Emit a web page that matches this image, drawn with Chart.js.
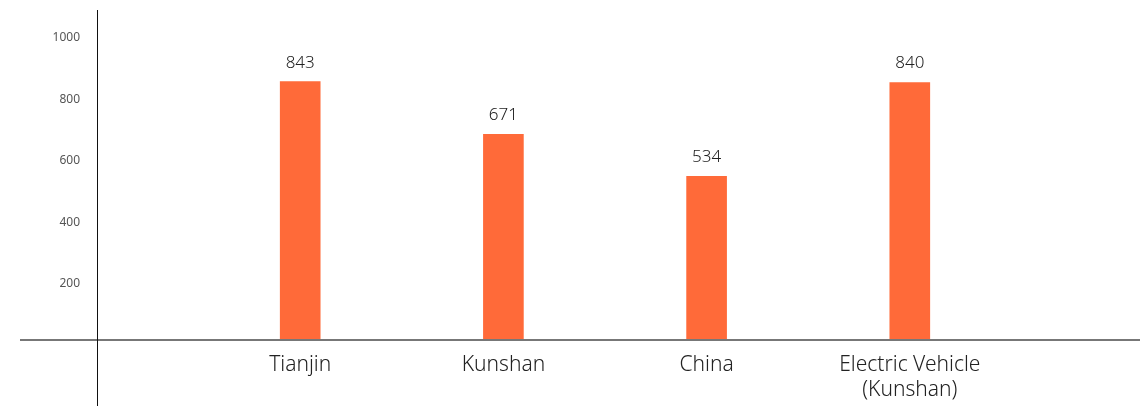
<!DOCTYPE html>
<html>
<head>
<meta charset="utf-8">
<script src="https://cdn.jsdelivr.net/npm/chart.js@4/dist/chart.umd.min.js"></script>
<style>
html,body{margin:0;padding:0;background:#fff;}
#wrap{width:1145px;height:406px;position:relative;}
</style>
</head>
<body>
<div id="wrap"><canvas id="c"></canvas></div>
<script>
const categories = ['Tianjin', 'Kunshan', 'China', ['Electric Vehicle', '(Kunshan)']];
const values = [843, 671, 534, 840];
const yTicks = [200, 400, 600, 800, 1000];
const yMax = 1075;

const labels = [''].concat(categories, ['']);
const data = [null].concat(values, [null]);
const FONT = "'Noto Sans', sans-serif";

const axisLines = {
  id: 'axisLines',
  afterDatasetsDraw(chart) {
    const {ctx, chartArea} = chart;
    const y0 = chart.scales.y.getPixelForValue(0);
    ctx.save();
    ctx.strokeStyle = '#777';
    ctx.lineWidth = 2;
    ctx.beginPath();
    ctx.moveTo(20, y0);
    ctx.lineTo(chart.width - 5, y0);
    ctx.stroke();
    ctx.strokeStyle = '#111';
    ctx.lineWidth = 1;
    ctx.beginPath();
    ctx.moveTo(chartArea.left + 0.5, chartArea.top);
    ctx.lineTo(chartArea.left + 0.5, chart.height);
    ctx.stroke();
    ctx.restore();
  }
};

const valueLabels = {
  id: 'valueLabels',
  afterDatasetsDraw(chart) {
    const {ctx} = chart;
    const meta = chart.getDatasetMeta(0);
    ctx.save();
    ctx.font = '300 17px ' + FONT;
    ctx.fillStyle = '#222';
    ctx.textAlign = 'center';
    ctx.textBaseline = 'bottom';
    meta.data.forEach((bar, i) => {
      const v = chart.data.datasets[0].data[i];
      if (v == null) return;
      ctx.fillText(String(v), bar.x, bar.y - 10);
    });
    ctx.restore();
  }
};

new Chart(document.getElementById('c'), {
  type: 'bar',
  data: {
    labels: labels,
    datasets: [{
      data: data,
      backgroundColor: '#ff6a39',
      barPercentage: 0.2,
      categoryPercentage: 1.0
    }]
  },
  options: {
    responsive: true,
    maintainAspectRatio: false,
    animation: false,
    layout: {padding: {top: 10, right: 32, left: 0, bottom: 0}},
    plugins: {legend: {display: false}, tooltip: {enabled: false}},
    scales: {
      x: {
        offset: false,
        grid: {display: false, drawTicks: false, offset: false},
        border: {display: false},
        ticks: {
          color: '#222',
          font: {family: FONT, size: 21, weight: 300, lineHeight: 1.2},
          padding: 12,
          maxRotation: 0,
          autoSkip: false
        },
        afterFit(scale) { scale.height = 66; scale.paddingLeft = 0; scale.paddingRight = 0; }
      },
      y: {
        min: 0,
        max: yMax,
        grid: {display: false, drawTicks: false},
        border: {display: false},
        afterBuildTicks(scale) { scale.ticks = yTicks.map(v => ({value: v})); },
        ticks: {
          color: '#555',
          font: {family: FONT, size: 12},
          padding: 17,
          labelOffset: 5,
          callback: v => String(v)
        },
        afterFit(scale) { scale.width = 97; scale.paddingTop = 0; scale.paddingBottom = 0; }
      }
    }
  },
  plugins: [axisLines, valueLabels]
});
</script>
</body>
</html>
